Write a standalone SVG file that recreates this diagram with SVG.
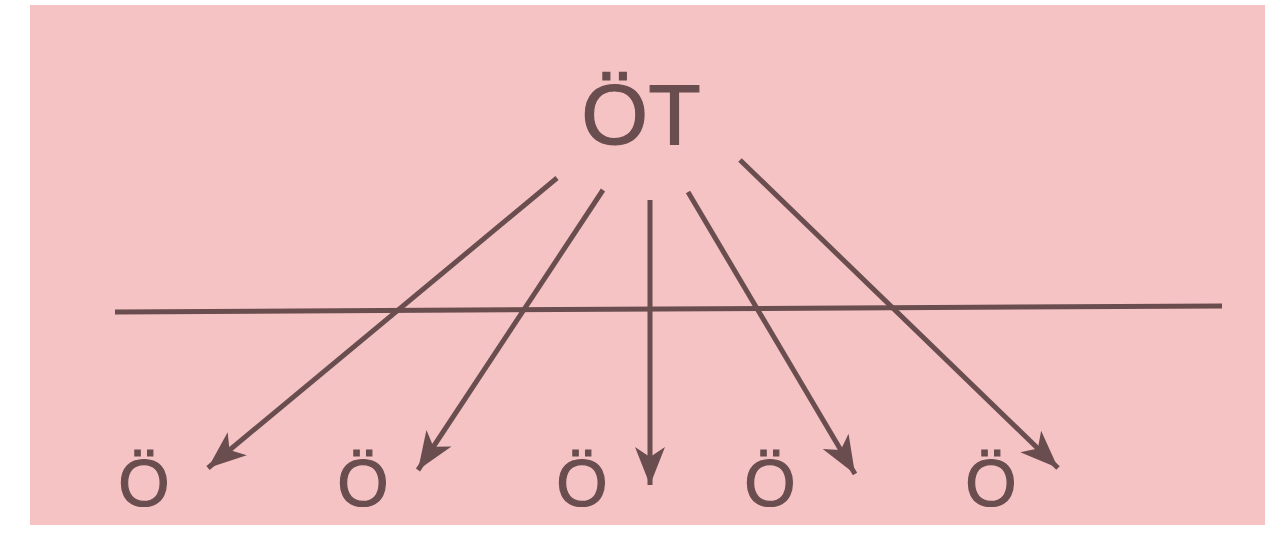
<svg xmlns="http://www.w3.org/2000/svg" width="1274" height="538" viewBox="0 0 1274 538">
<style>
.t{font-family:"Liberation Sans",Arial,sans-serif;fill:#6a4d4f;stroke:#6a4d4f;stroke-width:1.2;text-anchor:middle}
.c{stroke:#6a4d4f;stroke-width:5;fill:none}
</style>
<defs>
<marker id="ah" markerUnits="userSpaceOnUse" markerWidth="50" markerHeight="50" refX="0" refY="0" orient="auto" overflow="visible">
<path d="M0,0 L-38,-15 L-28,0 L-38,15 Z" fill="#6a4d4f"/>
</marker>
</defs>
<rect width="1274" height="538" fill="#ffffff"/>
<rect x="30" y="5" width="1235" height="520" fill="#f6c3c5"/>
<g id="top"><text class="t" x="641" y="144" font-size="86">ÖT</text></g>
<g id="n1"><text class="t" x="144" y="506" font-size="66">Ö</text></g>
<g id="n2"><text class="t" x="363" y="506" font-size="66">Ö</text></g>
<g id="n3"><text class="t" x="582" y="506" font-size="66">Ö</text></g>
<g id="n4"><text class="t" x="770" y="506" font-size="66">Ö</text></g>
<g id="n5"><text class="t" x="991" y="506" font-size="66">Ö</text></g>
<g id="connectors">
<line class="c" x1="115" y1="312" x2="1222" y2="306" stroke-width="4"/>
<line class="c" x1="557" y1="178" x2="208" y2="468" marker-end="url(#ah)"/>
<line class="c" x1="603" y1="190" x2="418" y2="470" marker-end="url(#ah)"/>
<line class="c" x1="650" y1="200" x2="650" y2="485" marker-end="url(#ah)"/>
<line class="c" x1="688" y1="192" x2="855" y2="474" marker-end="url(#ah)"/>
<line class="c" x1="740" y1="160" x2="1058" y2="468" marker-end="url(#ah)"/>
</g>
</svg>
